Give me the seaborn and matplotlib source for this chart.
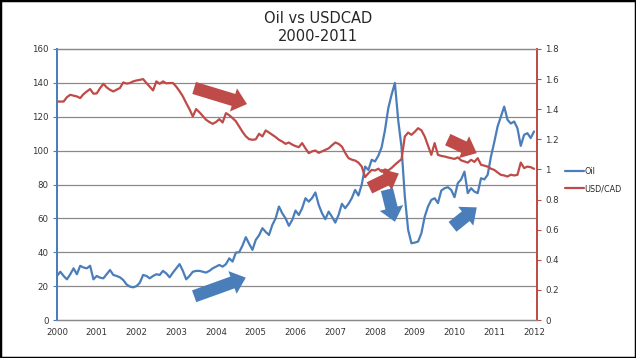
import numpy as np
import pandas as pd
import matplotlib
matplotlib.use("Agg")
import matplotlib.pyplot as plt
import seaborn as sns
from matplotlib.patches import Rectangle

# monthly values, Jan 2000 .. Jan 2012
oil = [
    26, 28.5, 26, 24, 27, 30.5, 27, 32, 31, 30.5, 32, 24,                 # 2000
    26, 25, 24.6, 27, 29.5, 26.6, 26, 25.2, 23.6, 21, 19.7, 19.3,         # 2001
    20, 22, 26.6, 26, 24.6, 26, 27, 26.6, 29, 27.5, 25.2, 28,             # 2002
    30.5, 33, 29, 24, 26, 28.5, 29, 29, 28.5, 28, 29, 30.5,               # 2003
    31.5, 32.5, 31.5, 33, 36.4, 34.5, 39.8, 40, 44, 48.9, 45, 41.4,       # 2004
    47.3, 50, 54.2, 52, 50.2, 56.1, 60, 67, 63, 60, 55.6, 59,             # 2005
    64.6, 62, 66, 71.9, 69.9, 72, 75.3, 68, 63, 59.5, 64, 61,             # 2006
    57.5, 62, 68.6, 66, 68.6, 72, 76.8, 73.5, 80, 90.6, 88.6, 94.6,       # 2007
    93.6, 97, 102, 112, 125, 133, 139.9, 118, 102, 72.9, 53.2, 45.3,      # 2008
    45.7, 46.3, 51.2, 61, 67, 70.9, 71.9, 69, 76.4, 77.8, 78.4, 76.8,     # 2009
    72.5, 80.8, 83, 87.6, 74.9, 77.8, 75.8, 74.9, 83.7, 83, 85.7, 96.5,   # 2010
    105, 114.2, 120, 126, 118.2, 116, 117.2, 113.2, 102.8, 109.3, 110.3, 107.4,  # 2011
    111.3,                                                                # 2012
]
usdcad = [
    1.451, 1.451, 1.451, 1.48, 1.496, 1.49, 1.485, 1.474, 1.50, 1.518, 1.534, 1.503,
    1.505, 1.54, 1.569, 1.545, 1.529, 1.518, 1.53, 1.541, 1.578, 1.57, 1.574, 1.585,
    1.591, 1.595, 1.600, 1.574, 1.55, 1.525, 1.585, 1.569, 1.585, 1.572, 1.574, 1.574,
    1.55, 1.52, 1.485, 1.441, 1.40, 1.352, 1.401, 1.38, 1.355, 1.330, 1.315, 1.303,
    1.315, 1.334, 1.312, 1.374, 1.36, 1.341, 1.32, 1.285, 1.25, 1.22, 1.201, 1.197,
    1.20, 1.237, 1.219, 1.259, 1.245, 1.230, 1.215, 1.197, 1.185, 1.170, 1.179, 1.165,
    1.155, 1.148, 1.175, 1.14, 1.108, 1.12, 1.126, 1.11, 1.12, 1.130, 1.14, 1.16,
    1.179, 1.17, 1.152, 1.11, 1.075, 1.065, 1.059, 1.045, 1.019, 0.949, 0.975, 0.997,
    0.993, 1.005, 0.985, 1.00, 0.993, 1.01, 1.031, 1.05, 1.068, 1.219, 1.245, 1.230,
    1.25, 1.274, 1.26, 1.219, 1.157, 1.097, 1.175, 1.097, 1.09, 1.086, 1.08, 1.075,
    1.07, 1.08, 1.06, 1.053, 1.045, 1.064, 1.05, 1.075, 1.031, 1.025, 1.019, 1.005,
    0.997, 0.98, 0.964, 0.96, 0.953, 0.965, 0.96, 0.964, 1.046, 1.009, 1.019, 1.015,
    1.004,
]
year_ticks = list(range(2000, 2013))
left_ticks = [0, 20, 40, 60, 80, 100, 120, 140, 160]
right_ticks = [0, 0.2, 0.4, 0.6, 0.8, 1, 1.2, 1.4, 1.6, 1.8]
right_labels = ["0", "0.2", "0.4", "0.6", "0.8", "1", "1.2", "1.4", "1.6", "1.8"]

# trend arrows (tail -> head) in (year, oil-axis value)
red_arrows = [((2003.45, 137), (2004.78, 127.5)),
              ((2007.86, 78), (2008.6, 86.5)),
              ((2009.83, 106.5), (2010.56, 98.5))]
blue_arrows = [((2003.45, 14), (2004.75, 25)),
               ((2008.3, 77), (2008.5, 58)),
               ((2009.95, 55), (2010.56, 66.5))]

months = pd.date_range("2000-01-01", periods=len(oil), freq="MS")
df = pd.DataFrame({"year": months.year + (months.month - 1) / 12.0,
                   "Oil": oil, "USD/CAD": usdcad})

BLUE = "#4a7ebb"
RED = "#be4b48"

sns.set_style("white")
plt.rcParams["font.family"] = ["DejaVu Sans"]

fig = plt.figure(figsize=(6.36, 3.58), dpi=100)
ax = fig.add_axes([57 / 636, 1 - 320 / 358, (537 - 57) / 636, (320 - 49) / 358])
ax2 = ax.twinx()

sns.lineplot(data=df, x="year", y="Oil", ax=ax, color=BLUE, lw=1.6, label="Oil", legend=False)
sns.lineplot(data=df, x="year", y="USD/CAD", ax=ax2, color=RED, lw=1.6, label="USD/CAD", legend=False)

ax.set_xlim(2000, 2012.075)
ax.set_ylim(0, 160)
ax2.set_ylim(0, 1.8)
ax.set_xticks(year_ticks)
ax.set_xticklabels([str(y) for y in year_ticks])
ax.set_yticks(left_ticks)
ax2.set_yticks(right_ticks)
ax2.set_yticklabels(right_labels)
ax.set_xlabel("")
ax.set_ylabel("")
ax2.set_ylabel("")

for t in left_ticks[1:-1]:
    ax.axhline(t, color="#8a8a8a", lw=0.9, zorder=0)

ax.tick_params(axis="x", labelsize=6.2, length=3, color="#8a8a8a", colors="#333333", pad=3)
ax.tick_params(axis="y", labelsize=6.2, length=3, color=BLUE, colors="#333333", pad=3)
ax2.tick_params(axis="y", labelsize=6.2, length=3, color=RED, colors="#333333", pad=3)
ax.tick_params(axis="x", color="#8a8a8a")

for a in (ax, ax2):
    a.spines["top"].set_color("#8a8a8a")
    a.spines["bottom"].set_color("#8a8a8a")
    a.spines["left"].set_color(BLUE)
    a.spines["right"].set_color(RED)
    a.spines["left"].set_linewidth(1.3)
    a.spines["right"].set_linewidth(1.3)
    a.spines["top"].set_linewidth(0.9)
    a.spines["bottom"].set_linewidth(0.9)

arrow_style = "simple,head_length=0.85,head_width=1.45,tail_width=0.75"
for (tail, head) in red_arrows:
    ax.annotate("", xy=head, xytext=tail,
                arrowprops=dict(arrowstyle=arrow_style, mutation_scale=12,
                                color=RED, lw=0, shrinkA=0, shrinkB=0), zorder=5)
for (tail, head) in blue_arrows:
    ax.annotate("", xy=head, xytext=tail,
                arrowprops=dict(arrowstyle=arrow_style, mutation_scale=12,
                                color=BLUE, lw=0, shrinkA=0, shrinkB=0), zorder=5)

h1, l1 = ax.get_legend_handles_labels()
h2, l2 = ax2.get_legend_handles_labels()
fig.legend(h1 + h2, l1 + l2, loc="center left", bbox_to_anchor=(0.88, 0.497),
           frameon=False, fontsize=5.8, handlelength=2.3, handletextpad=0.1,
           labelspacing=1.0, borderpad=0.2)

fig.suptitle("Oil vs USDCAD\n2000-2011", x=0.5, y=0.97, va="top", fontsize=10.5,
             linespacing=1.25)

fig.patches.append(Rectangle((0, 0), 1, 1, transform=fig.transFigure, fill=False,
                             edgecolor="black", lw=2.5))

fig.savefig("out.png", dpi=100)
